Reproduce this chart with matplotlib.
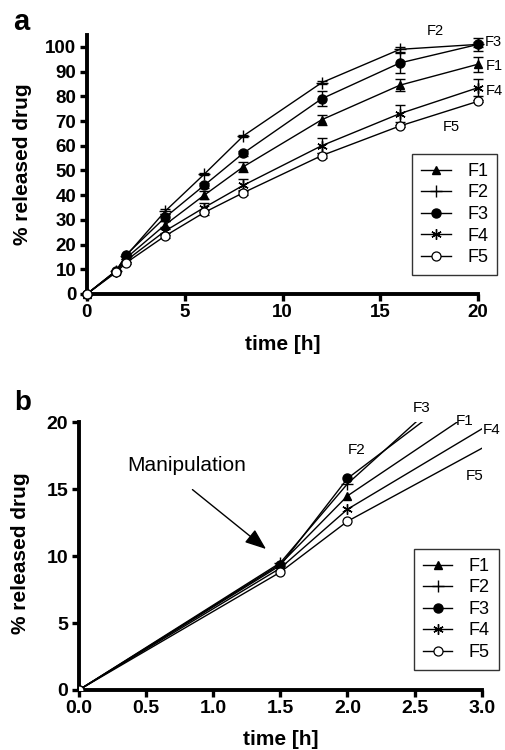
import matplotlib
matplotlib.use("Agg")
import matplotlib.pyplot as plt
from matplotlib.lines import Line2D

plt.rcParams['font.family'] = ['Liberation Sans', 'DejaVu Sans']

# ---------------- data ----------------
time_h = [0, 1.5, 2, 4, 6, 8, 12, 16, 20]
names = ["F1", "F2", "F3", "F4", "F5"]
F1 = [0, 9.4, 14.5, 28.0, 40.0, 51.5, 70.5, 84.5, 93.0]
F2 = [0, 9.5, 15.4, 33.5, 48.5, 64.0, 85.5, 99.0, 101.0]
F3 = [0, 9.3, 15.8, 31.0, 44.0, 57.0, 79.0, 93.5, 101.0]
F4 = [0, 9.1, 13.5, 25.5, 35.0, 44.0, 60.0, 73.0, 83.5]
F5 = [0, 8.8, 12.6, 23.5, 33.0, 41.0, 56.0, 68.0, 78.0]
F1_err = [0, 0, 0.5, 1.5, 1.5, 2.0, 2.0, 2.5, 3.0]
F2_err = [0, 0, 0.5, 1.0, 0.5, 0.5, 0.5, 1.0, 1.0]
F3_err = [0, 0, 0.5, 1.5, 1.0, 1.0, 3.0, 4.0, 2.5]
F4_err = [0, 0, 0.5, 1.5, 2.0, 2.5, 3.0, 3.5, 3.5]
F5_err = [0, 0, 0.5, 1.0, 1.0, 1.0, 1.0, 0.5, 0.5]

a_xticks = [0, 5, 10, 15, 20]
a_yticks = list(range(0, 101, 10))
b_xticks = [0.0, 0.5, 1.0, 1.5, 2.0, 2.5, 3.0]
b_yticks = [0, 5, 10, 15, 20]

series = [F1, F2, F3, F4, F5]
errs = [F1_err, F2_err, F3_err, F4_err, F5_err]
styles = [
    dict(marker='^', mfc='black', ms=6),
    dict(marker='+', mfc='black', ms=9, mew=1.0),
    dict(marker='o', mfc='black', ms=6.5),
    dict(marker=(6, 2, 0), mfc='black', ms=7.5, mew=1.0),
    dict(marker='o', mfc='white', ms=6.5, mew=0.9),
]

fig = plt.figure(figsize=(5.05, 7.5), dpi=100)

def style_axes(ax, size):
    for s in ['top', 'right']:
        ax.spines[s].set_visible(False)
    for s in ['left', 'bottom']:
        ax.spines[s].set_linewidth(2.8)
    ax.tick_params(direction='out', length=5, width=2.4, labelsize=size, pad=2.5)
    for lab in ax.get_xticklabels() + ax.get_yticklabels():
        lab.set_fontweight('bold')

leg_kw = dict(loc='lower right', fontsize=13, frameon=True, fancybox=False,
              edgecolor='black', handlelength=1.65, handletextpad=0.9,
              labelspacing=0.25, borderpad=0.5, borderaxespad=0)

# ---------------- panel a ----------------
axa = fig.add_axes([0.172, 0.608, 0.775, 0.346])
for y, e, st, nm in zip(series, errs, styles, names):
    axa.errorbar(time_h, y, yerr=e, color='black', lw=1.0, capsize=3.5,
                 elinewidth=1.0, capthick=1.0, mec='black', label=nm,
                 clip_on=False, zorder=3, **st)
axa.set_xlim(0, 20)
axa.set_ylim(0, 105)
axa.set_xticks(a_xticks)
axa.set_yticks(a_yticks)
style_axes(axa, 13.5)
axa.set_xlabel("time [h]", fontsize=15, fontweight='bold', va='top')
axa.xaxis.set_label_coords(0.5, -0.158)
axa.set_ylabel("% released drug", fontsize=15, fontweight='bold')
axa.yaxis.set_label_coords(-0.141, 0.5)

handles = [Line2D([], [], color='black', lw=1.0, mec='black', **st) for st in styles]
leg = axa.legend(handles, names, bbox_to_anchor=(1.049, 0.073), **leg_kw)
leg.get_frame().set_linewidth(1.0)

lab_kw = dict(fontsize=10.5, color='black', clip_on=False, va='center')
axa.text(17.8, 106.5, "F2", ha='center', **lab_kw)
axa.text(20.35, 102.0, "F3", ha='left', **lab_kw)
axa.text(20.4, 92.3, "F1", ha='left', **lab_kw)
axa.text(20.4, 82.2, "F4", ha='left', **lab_kw)
axa.text(18.6, 67.6, "F5", ha='center', **lab_kw)
fig.text(0.043, 0.970, "a", fontsize=21, fontweight='bold', ha='center', va='center')

# ---------------- panel b ----------------
axb = fig.add_axes([0.156, 0.08, 0.798, 0.357])
for y, st, nm in zip(series, styles, names):
    axb.plot(time_h, y, color='black', lw=1.0, mec='black', label=nm,
             zorder=3, **st)
axb.set_xlim(0, 3.0)
axb.set_ylim(0, 20)
axb.set_xticks(b_xticks)
axb.set_xticklabels([f"{v:.1f}" for v in b_xticks])
axb.set_yticks(b_yticks)
style_axes(axb, 14)
axb.set_xlabel("time [h]", fontsize=15, fontweight='bold', va='top')
axb.xaxis.set_label_coords(0.5, -0.150)
axb.set_ylabel("% released drug", fontsize=15, fontweight='bold')
axb.yaxis.set_label_coords(-0.122, 0.51)

legb = axb.legend(handles, names, bbox_to_anchor=(1.042, 0.075), **leg_kw)
legb.get_frame().set_linewidth(1.0)

lab_kw_b = dict(lab_kw, fontsize=11)
axb.text(2.55, 21.1, "F3", ha='center', **lab_kw_b)
axb.text(2.87, 20.1, "F1", ha='center', **lab_kw_b)
axb.text(3.07, 19.4, "F4", ha='center', **lab_kw_b)
axb.text(2.07, 17.9, "F2", ha='center', **lab_kw_b)
axb.text(2.95, 16.0, "F5", ha='center', **lab_kw_b)
axb.text(0.80, 16.8, "Manipulation", ha='center', va='center', fontsize=15)
axb.annotate("", xy=(1.41, 10.4), xytext=(0.83, 15.1),
             arrowprops=dict(arrowstyle='-|>,head_length=1.3,head_width=0.5',
                             color='black', lw=1.0))
fig.text(0.045, 0.4627, "b", fontsize=20, fontweight='bold', ha='center', va='center')

fig.savefig("out.png", dpi=100)
